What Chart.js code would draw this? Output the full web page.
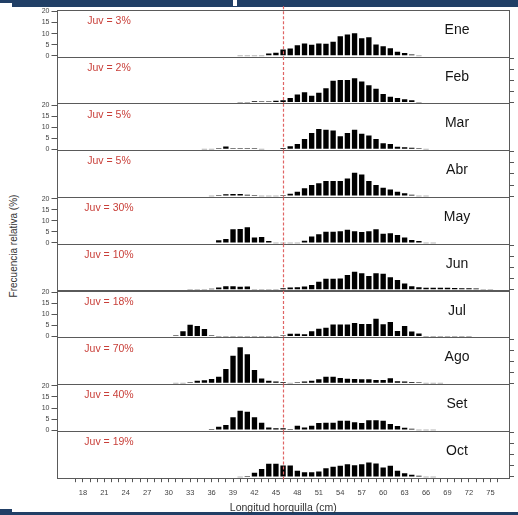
<!DOCTYPE html>
<html>
<head>
<meta charset="utf-8">
<script src="https://cdn.jsdelivr.net/npm/chart.js"></script>
<style>
  html, body { margin: 0; padding: 0; background: #ffffff; }
  #wrap { position: relative; width: 518px; height: 515px; overflow: hidden; font-family: "Liberation Sans", Arial, sans-serif; }
  #wrap canvas { position: absolute; left: 0; top: 0; }
  .band { position: absolute; background: #213f66; }
  #ytitle { position: absolute; left: 13px; top: 246px; transform: translate(-50%, -50%) rotate(-90deg); white-space: nowrap; font-size: 10px; color: #333; }
</style>
</head>
<body>
<div id="wrap">
  <div class="band" style="left:12px;top:0;width:506px;height:7px;"></div>
  <div class="band" style="left:0;top:0;width:12px;height:3px;"></div>
  <div style="position:absolute;left:233px;top:0;width:4px;height:6px;background:#fff;"></div>
  <div class="band" style="left:0;top:512px;width:518px;height:3px;"></div>
  <div class="band" style="left:0;top:509px;width:12px;height:6px;"></div>
  <div id="ytitle">Frecuencia relativa (%)</div>
</div>
<script>
// ---------------- data ----------------
const lengths = [30,31,32,33,34,35,36,37,38,39,40,41,42,43,44,45,46,47,48,49,50,51,52,53,54,55,56,57,58,59,60,61,62,63,64,65,66,67,68,69,70,71,72,73,74,75,76];
const months = ['Ene','Feb','Mar','Abr','May','Jun','Jul','Ago','Set','Oct'];
const juvenilePct = [3, 2, 5, 5, 30, 10, 18, 70, 40, 19];
const n = null;
const ene = [n,n,n,n,n,n,n,n,n,n, 0,0,0,0,1.0,1.3,2.8,3.2,4.7,5.5, 4.9,5.5,5.4,6.3,8.8,9.6,10.2,7.9,8.4,5.1, 4.3,3.4,1.8,1.2,0.5,0,n,n,n,n, n,n,n,n,n,n,n];
const feb = [n,n,n,n,n,n,n,n,n,n, 0,0,0.6,0.2,0.4,0.8,1.0,2.0,3.6,4.6, 3.0,4.4,6.5,9.8,10.2,10.2,11.0,9.5,7.8,6.2, 3.8,2.6,2.0,1.5,1.0,0,n,n,n,n, n,n,n,n,n,n,n];
const mar = [n,n,n,n,n,0,0,0.4,1.3,0.5, 0.5,0.5,0.5,0,n,n,0.6,1.4,2.4,4.7, 7.4,9.2,8.9,8.5,5.9,7.4,8.8,7.0,6.2,4.7, 2.7,2.4,1.2,0.9,0.7,0.5,0,n,n,n, n,n,n,n,n,n,n];
const abr = [n,n,n,n,n,n,0,0.4,0.8,0.9, 0.9,0.6,0.4,0,0,0,0.4,1.1,2.0,3.5, 5.0,5.8,6.8,6.8,6.8,8.0,10.6,9.8,6.8,5.0, 3.8,3.0,2.0,1.3,0.6,0,0,n,n,n, n,n,n,n,n,n,n];
const may = [n,n,n,n,n,n,n,1.2,1.8,6.2, 6.3,7.1,2.4,2.7,0.9,0,0,0,0,1.0, 2.9,3.9,5.0,5.0,5.3,5.9,5.3,4.9,5.3,6.2, 4.1,4.4,3.6,2.4,1.3,0.9,0,0,n,n, n,n,n,n,n,n,n];
const jun = [n,n,n,0,0,0,0.4,1.0,1.5,1.5, 1.3,1.4,0,0,0,0,0.6,1.0,1.1,1.4, 2.1,3.6,4.9,5.0,5.1,6.6,8.1,7.4,6.2,7.4, 7.2,5.6,4.4,2.8,1.6,1.1,0.9,0.9,0.9,0.9, 0.8,0.7,0.6,0.5,0,0,n];
const jul = [n,0.4,2.4,5.3,4.8,3.4,0.3,0,0,0, 0,0,0,0,0,0,0.4,1.2,1.2,1.0, 2.4,3.5,3.9,5.4,5.4,5.4,6.1,5.6,5.6,8.0, 5.5,6.6,2.5,4.8,2.2,1.3,0,0,0,0, 0,0,0,n,n,n,n];
const ago = [n,0,0,0.4,1.2,1.4,1.9,2.9,6.5,12.5, 16.3,13.2,6.0,2.2,1.2,0.8,0.6,0,0.5,0.8, 1.2,1.8,2.9,2.9,2.4,2.1,1.9,1.8,1.8,1.5, 1.5,2.3,0.9,0.8,0.6,0.5,0,0,0,n, n,n,n,n,n,n,n];
const set = [n,n,n,n,n,n,0.5,1.5,2.3,5.8, 8.8,8.3,5.8,3.3,1.2,0.8,0.8,0.5,2.0,1.2, 2.0,3.2,3.3,3.3,4.2,4.2,3.6,3.2,4.5,4.5, 4.2,2.7,1.8,1.0,0.6,0,0,0,n,n, n,n,n,n,n,n,n];
const oct = [n,n,n,n,n,n,n,n,n,n, 0,0.4,1.9,3.6,5.9,5.9,5.1,5.1,2.8,2.1, 2.1,2.4,3.9,4.6,5.0,5.7,5.3,5.7,6.5,6.1, 4.3,5.0,2.8,1.6,1.0,0.5,0,0,n,n, n,n,n,n,n,n,n];
const series = [ene, feb, mar, abr, may, jun, jul, ago, set, oct];
const yTickValues = [0, 5, 10, 15, 20];
const xTickValues = [17,18,19,20,21,22,23,24,25,26,27,28,29,30,31,32,33,34,35,36,37,38,39,40,41,42,43,44,45,46,47,48,49,50,51,52,53,54,55,56,57,58,59,60,61,62,63,64,65,66,67,68,69,70,71,72,73,74,75,76];
const xLabelStep = 3;
const thresholdLength = 46;

// ---------------- layout ----------------
const pageW = 518, pageH = 515;
const plotLeft = 57.5, plotRight = 509;
const firstTop = 10.2, panelHeight = 46.8;
const xAxisHeight = 36;
const xMin = 14.45, xMax = 77.6;
const yMin = -0.6, yMax = 20.6;

Chart.defaults.font.family = "'Liberation Sans', Arial, sans-serif";

const panelPlugin = {
  id: 'panelDecor',
  afterDatasetsDraw(chart, args, opts) {
    const ctx = chart.ctx;
    const a = chart.chartArea;
    const xs = chart.scales.x;
    ctx.save();
    // frame
    ctx.strokeStyle = '#5a5a5a';
    ctx.lineWidth = 1;
    const l = Math.floor(a.left) + 0.5, t = Math.floor(a.top) + 0.5;
    const r = Math.floor(a.right) + 0.5, b = Math.floor(a.bottom) + 0.5;
    ctx.strokeRect(l, t, r - l, b - t);
    // threshold line
    const lx = Math.round(xs.getPixelForValue(thresholdLength)) + 0.5;
    ctx.strokeStyle = '#e06464';
    ctx.lineWidth = 1.2;
    ctx.setLineDash([3, 2]);
    ctx.beginPath();
    ctx.moveTo(lx, a.top - (opts.first ? 4 : 0));
    ctx.lineTo(lx, a.bottom + (opts.last ? 3 : 0));
    ctx.stroke();
    ctx.setLineDash([]);
    // texts
    ctx.textBaseline = 'middle';
    ctx.textAlign = 'center';
    ctx.fillStyle = '#c9403a';
    ctx.font = "10.5px 'Liberation Sans', Arial, sans-serif";
    ctx.fillText(opts.juv, 109, a.top + 11);
    ctx.fillStyle = '#151515';
    ctx.font = "14px 'Liberation Sans', Arial, sans-serif";
    ctx.fillText(opts.month, 457, a.top + 19.8);
    ctx.restore();
  }
};

const wrap = document.getElementById('wrap');
months.forEach((month, i) => {
  const canvas = document.createElement('canvas');
  canvas.width = pageW; canvas.height = pageH;
  canvas.style.width = pageW + 'px'; canvas.style.height = pageH + 'px';
  wrap.appendChild(canvas);
  const top = firstTop + i * panelHeight;
  const bottom = top + panelHeight;
  const isLast = i === months.length - 1;
  const leftAxis = i % 2 === 0;
  const values = series[i];
  const points = [];
  lengths.forEach((L, k) => { if (values[k] !== null) points.push({ x: L, y: values[k] }); });

  new Chart(canvas, {
    type: 'bar',
    data: {
      datasets: [{
        data: points,
        backgroundColor: c => (c.parsed && c.parsed.y === 0) ? '#b4b4b4' : '#000000',
        borderWidth: 0,
        barPercentage: 0.75,
        categoryPercentage: 1.0,
        minBarLength: 1
      }]
    },
    options: {
      responsive: false,
      animation: false,
      events: [],
      layout: {
        padding: {
          left: leftAxis ? 0 : plotLeft,
          right: leftAxis ? pageW - plotRight : 0,
          top: top,
          bottom: isLast ? pageH - bottom - xAxisHeight : pageH - bottom
        }
      },
      plugins: {
        legend: { display: false },
        tooltip: { enabled: false },
        panelDecor: { month: month, juv: 'Juv = ' + juvenilePct[i] + '%', first: i === 0, last: isLast }
      },
      scales: {
        x: {
          type: 'linear',
          min: xMin, max: xMax,
          offset: false,
          display: isLast,
          afterBuildTicks: s => { s.ticks = xTickValues.map(v => ({ value: v })); },
          afterFit: s => { s.height = isLast ? xAxisHeight : 0; },
          grid: { offset: false, drawOnChartArea: false, drawTicks: true, tickLength: 4, color: '#555', lineWidth: 1 },
          border: { display: false },
          ticks: {
            autoSkip: false, maxRotation: 0, minRotation: 0, padding: 6,
            font: { size: 7.5 }, color: '#444',
            callback: v => (v % xLabelStep === 0 && v >= 18 && v <= 75) ? String(v) : ''
          },
          title: { display: true, text: 'Longitud horquilla (cm)', font: { size: 10.5 }, color: '#333', padding: 0 }
        },
        y: {
          type: 'linear',
          position: leftAxis ? 'left' : 'right',
          min: yMin, max: yMax,
          afterBuildTicks: s => { s.ticks = yTickValues.map(v => ({ value: v })); },
          afterFit: s => { s.width = leftAxis ? plotLeft : pageW - plotRight; },
          grid: { drawOnChartArea: false, drawTicks: true, tickLength: leftAxis ? 6 : 5, color: '#555', lineWidth: 1 },
          border: { display: false },
          ticks: { display: leftAxis, autoSkip: false, padding: 2, font: { size: 7 }, color: '#444' }
        }
      }
    },
    plugins: [panelPlugin]
  });
});
</script>
</body>
</html>
